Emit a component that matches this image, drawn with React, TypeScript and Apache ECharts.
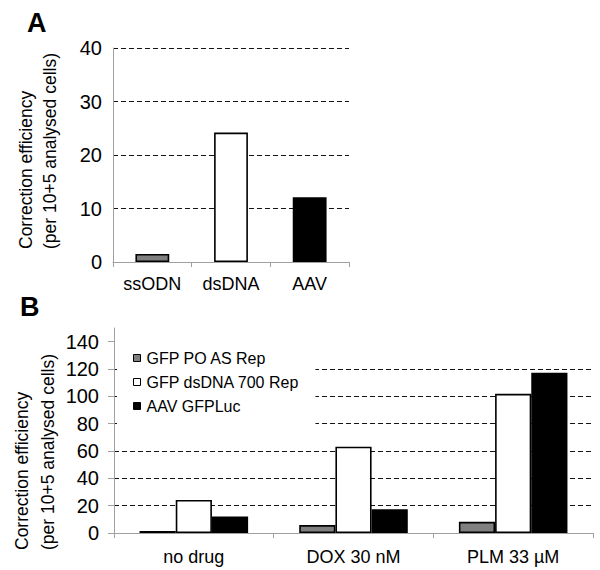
import React, { useEffect, useRef } from "react";
import * as echarts from "echarts";

const FONT = "'Liberation Sans', Arial, sans-serif";

// Panel A data
const panelACategories = ["ssODN", "dsDNA", "AAV"];
const panelAValues = [1.5, 24.2, 12.1];
const panelATicks = [0, 10, 20, 30, 40];

// Panel B data
const panelBCategories = ["no drug", "DOX 30 nM", "PLM 33 µM"];
const seriesNames = ["GFP PO AS Rep", "GFP dsDNA 700 Rep", "AAV GFPLuc"];
const gfpPoAsRep = [1.5, 5.8, 8.2];
const gfpDsDna700Rep = [24.2, 63.2, 101.8];
const aavGfpLuc = [12.1, 17.3, 117.3];
const panelBTicks = [0, 20, 40, 60, 80, 100, 120, 140];

const barColors = ["#808080", "#ffffff", "#000000"];

export default function App() {
  const ref = useRef<HTMLDivElement>(null);
  useEffect(() => {
    if (!ref.current) return;
    const chart = echarts.init(ref.current, null, { renderer: "svg" });
    const axisGray = "#a0a0a0";
    const dashed = { show: true, lineStyle: { color: "#111", type: [5, 3] as any, width: 1 } };
    const bSeriesData = [gfpPoAsRep, gfpDsDna700Rep, aavGfpLuc];
    const titleFont = `17.5px ${FONT}`;
    const option: any = {
      animation: false,
      backgroundColor: "#ffffff",
      textStyle: { fontFamily: FONT },
      grid: [
        { left: 113, top: 48, width: 236, height: 214 },
        { left: 114, top: 328, width: 479, height: 205 },
      ],
      xAxis: [
        {
          type: "category",
          gridIndex: 0,
          data: panelACategories,
          axisLine: { show: true, lineStyle: { color: axisGray, width: 1 } },
          axisTick: { show: true, length: 5, lineStyle: { color: axisGray } },
          axisLabel: { color: "#000", fontSize: 18, fontFamily: FONT, margin: 13 },
        },
        {
          type: "category",
          gridIndex: 1,
          data: panelBCategories,
          axisLine: { show: true, lineStyle: { color: axisGray, width: 1 } },
          axisTick: { show: true, length: 5, lineStyle: { color: axisGray } },
          axisLabel: { color: "#000", fontSize: 18, fontFamily: FONT, margin: 15 },
        },
      ],
      yAxis: [
        {
          type: "value",
          gridIndex: 0,
          min: 0,
          max: 40,
          interval: 10,
          axisLine: { show: true, lineStyle: { color: axisGray, width: 1 } },
          axisTick: { show: false },
          axisLabel: { color: "#000", fontSize: 20, fontFamily: FONT, margin: 11, customValues: panelATicks },
          splitLine: { ...dashed, showMinLine: false },
        },
        {
          type: "value",
          gridIndex: 1,
          min: 0,
          max: 150,
          interval: 20,
          axisLine: { show: true, lineStyle: { color: axisGray, width: 1 } },
          axisTick: { show: true, length: 6, lineStyle: { color: axisGray }, customValues: panelBTicks },
          axisLabel: { color: "#000", fontSize: 20, fontFamily: FONT, margin: 15, customValues: panelBTicks },
          splitLine: { ...dashed, showMinLine: false, showMaxLine: false },
        },
      ],
      legend: {
        data: seriesNames,
        orient: "vertical",
        left: 117,
        top: 336,
        icon: "rect",
        itemWidth: 7,
        itemHeight: 7,
        itemGap: 8,
        backgroundColor: "#ffffff",
        padding: [14, 16, 26, 16],
        textStyle: { fontSize: 16, color: "#000", fontFamily: FONT, padding: [0, 0, 0, 1] },
        itemStyle: { borderColor: "#000", borderWidth: 1 },
      },
      series: [
        {
          type: "bar",
          name: "panelA",
          xAxisIndex: 0,
          yAxisIndex: 0,
          barCategoryGap: "57%",
          data: panelAValues.map((v, i) => ({
            value: v,
            itemStyle: { color: barColors[i], borderColor: "#000", borderWidth: 1.6 },
          })),
        },
        ...seriesNames.map((name, i) => ({
          type: "bar",
          name,
          xAxisIndex: 1,
          yAxisIndex: 1,
          barGap: "0%",
          barCategoryGap: "32%",
          itemStyle: { color: barColors[i], borderColor: "#000", borderWidth: 1.6 },
          data: bSeriesData[i],
        })),
      ],
      graphic: [
        { type: "text", x: 27, y: 23, style: { text: "A", font: `bold 27px ${FONT}`, fill: "#000", textVerticalAlign: "middle" } },
        { type: "text", x: 20, y: 307, style: { text: "B", font: `bold 27px ${FONT}`, fill: "#000", textVerticalAlign: "middle" } },
        { type: "text", x: 26, y: 249, rotation: Math.PI / 2, style: { text: "Correction efficiency", font: titleFont, fill: "#000", textAlign: "left", textVerticalAlign: "middle" } },
        { type: "text", x: 50, y: 249, rotation: Math.PI / 2, style: { text: "(per 10+5 analysed cells)", font: titleFont, fill: "#000", textAlign: "left", textVerticalAlign: "middle" } },
        { type: "text", x: 22, y: 550, rotation: Math.PI / 2, style: { text: "Correction efficiency", font: titleFont, fill: "#000", textAlign: "left", textVerticalAlign: "middle" } },
        { type: "text", x: 48, y: 550, rotation: Math.PI / 2, style: { text: "(per 10+5 analysed cells)", font: titleFont, fill: "#000", textAlign: "left", textVerticalAlign: "middle" } },
      ],
    };
    chart.setOption(option);
    return () => chart.dispose();
  }, []);
  return (
    <div
      ref={ref}
      style={{ position: "absolute", left: 0, top: 0, width: 600, height: 570, background: "#fff" }}
    />
  );
}
